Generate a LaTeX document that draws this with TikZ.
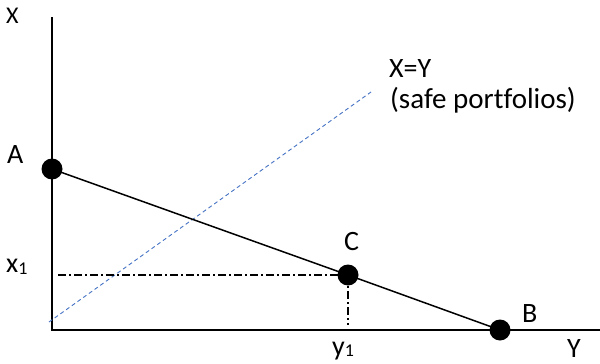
\documentclass[tikz,border=0pt]{standalone}
\usepackage{fontspec}
\setmainfont[Ligatures=NoCommon]{Carlito}
\newcommand{\subone}{{\fontsize{18}{18}\selectfont\raisebox{-1.5pt}{1}}}
\begin{document}
\begin{tikzpicture}[x=1pt,y=-1pt,
  lbl/.style={anchor=base west,inner sep=0pt,font=\fontsize{28}{32}\selectfont},
  dot/.style={circle,fill=black,inner sep=0pt,minimum size=21pt},
  axis/.style={line width=1.8pt},
  budget/.style={line width=1.5pt},
  guide/.style={line width=1.4pt,dash pattern=on 8pt off 3pt on 2pt off 3pt},
  safe/.style={line width=0.9pt,color={rgb,255:red,68;green,114;blue,196},dash pattern=on 4pt off 3pt}]
\useasboundingbox (0,0) rectangle (600,364);
% axes
\coordinate (top) at (52,17);
\coordinate (O) at (52,330);
\coordinate (right) at (600,330);
\draw[axis] (top) -- (O) -- (right);
% safe line
\coordinate (s0) at (49,322);
\coordinate (s1) at (371,92);
\draw[safe] (s0) -- (s1);
% points
\node[dot] (A) at (52,169) {};
\node[dot] (C) at (348,275) {};
\node[dot] (B) at (500,330) {};
\draw[budget] (A.center) -- (C.center) -- (B.center);
% guides
\coordinate (gx) at (58,275);
\coordinate (gy) at (348,325);
\draw[guide] (gx) -- (C.center);
\draw[guide] (C.center) -- (gy);
% labels
\node[lbl,font=\fontsize{24}{28}\selectfont] (lX) at (6,23.5) {X};
\node[lbl] (lA) at (7,163) {A};
\node[lbl] (lx1) at (6,272.5) {x\subone};
\node[lbl] (lC) at (344,250) {C};
\node[lbl] (lB) at (522,322) {B};
\node[lbl] (ly1) at (332,355) {y\subone};
\node[lbl] (lY) at (567,357) {Y};
\node[lbl] (lXY) at (389,77) {X=Y};
\node[lbl,font=\fontsize{29}{32}\selectfont] (lsafe) at (390,108) {(safe portfolios)};
\end{tikzpicture}
\end{document}
